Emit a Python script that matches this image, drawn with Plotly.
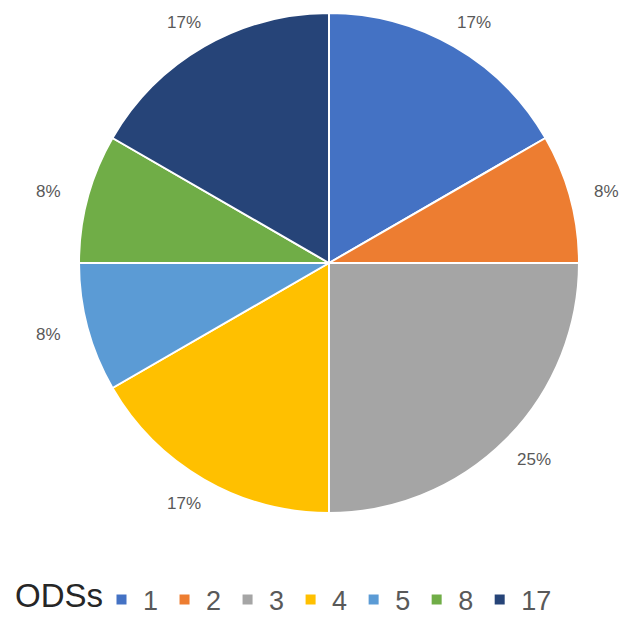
import math
import plotly.graph_objects as go

categories = ["1", "2", "3", "4", "5", "8", "17"]
values = [2, 1, 3, 2, 1, 1, 2]
colors = ["#4472C4", "#ED7D31", "#A5A5A5", "#FFC000", "#5B9BD5", "#70AD47", "#264478"]
legend_title = "ODSs"

W, H = 622, 617
dom_x = [79 / W, 579 / W]
dom_y = [1 - 513 / H, 1 - 13 / H]

fig = go.Figure(go.Pie(
    labels=categories, values=values, sort=False, direction="clockwise", rotation=0,
    marker=dict(colors=colors, line=dict(color="white", width=2)),
    textinfo="none", hoverinfo="label+percent",
    domain=dict(x=dom_x, y=dom_y),
))

# percentage labels placed along each slice's mid-angle, outside the pie
total = sum(values)
cx = (dom_x[0] + dom_x[1]) / 2 * W
cy = (dom_y[0] + dom_y[1]) / 2 * H
R = (dom_x[1] - dom_x[0]) * W / 2
rx, ry = R * 1.16, R * 1.11
cum = 0
annotations = []
for v in values:
    mid = (cum + v / 2) / total * 2 * math.pi
    cum += v
    px = min(max(cx + rx * math.sin(mid), 20), W - 16)
    py = cy + ry * math.cos(mid)
    annotations.append(dict(
        x=px / W, y=py / H, xref="paper", yref="paper", showarrow=False,
        text=f"{round(v / total * 100)}%", font=dict(size=17, color="#595959"),
        xanchor="center", yanchor="middle", borderpad=0,
    ))

leg_y = (H - 600) / H
annotations.append(dict(
    x=14 / W, y=2 / H, xref="paper", yref="paper", showarrow=False,
    text=legend_title, font=dict(size=33, color="#262626"),
    xanchor="left", yanchor="bottom", borderpad=0,
))

fig.update_layout(
    width=W, height=H, margin=dict(l=0, r=0, t=0, b=0, autoexpand=False),
    paper_bgcolor="white", plot_bgcolor="white",
    font=dict(family="Liberation Sans, Arial, sans-serif", color="#595959"),
    annotations=annotations,
    showlegend=True,
    legend=dict(
        orientation="h", x=100 / W, xanchor="left", y=leg_y, yanchor="middle",
        font=dict(size=27, color="#595959"),
        itemwidth=33, traceorder="normal",
    ),
)

fig.write_html(
    "out.html",
    config={"displayModeBar": False},
    post_script="document.body.style.margin='0';document.body.style.overflow='hidden';",
)
